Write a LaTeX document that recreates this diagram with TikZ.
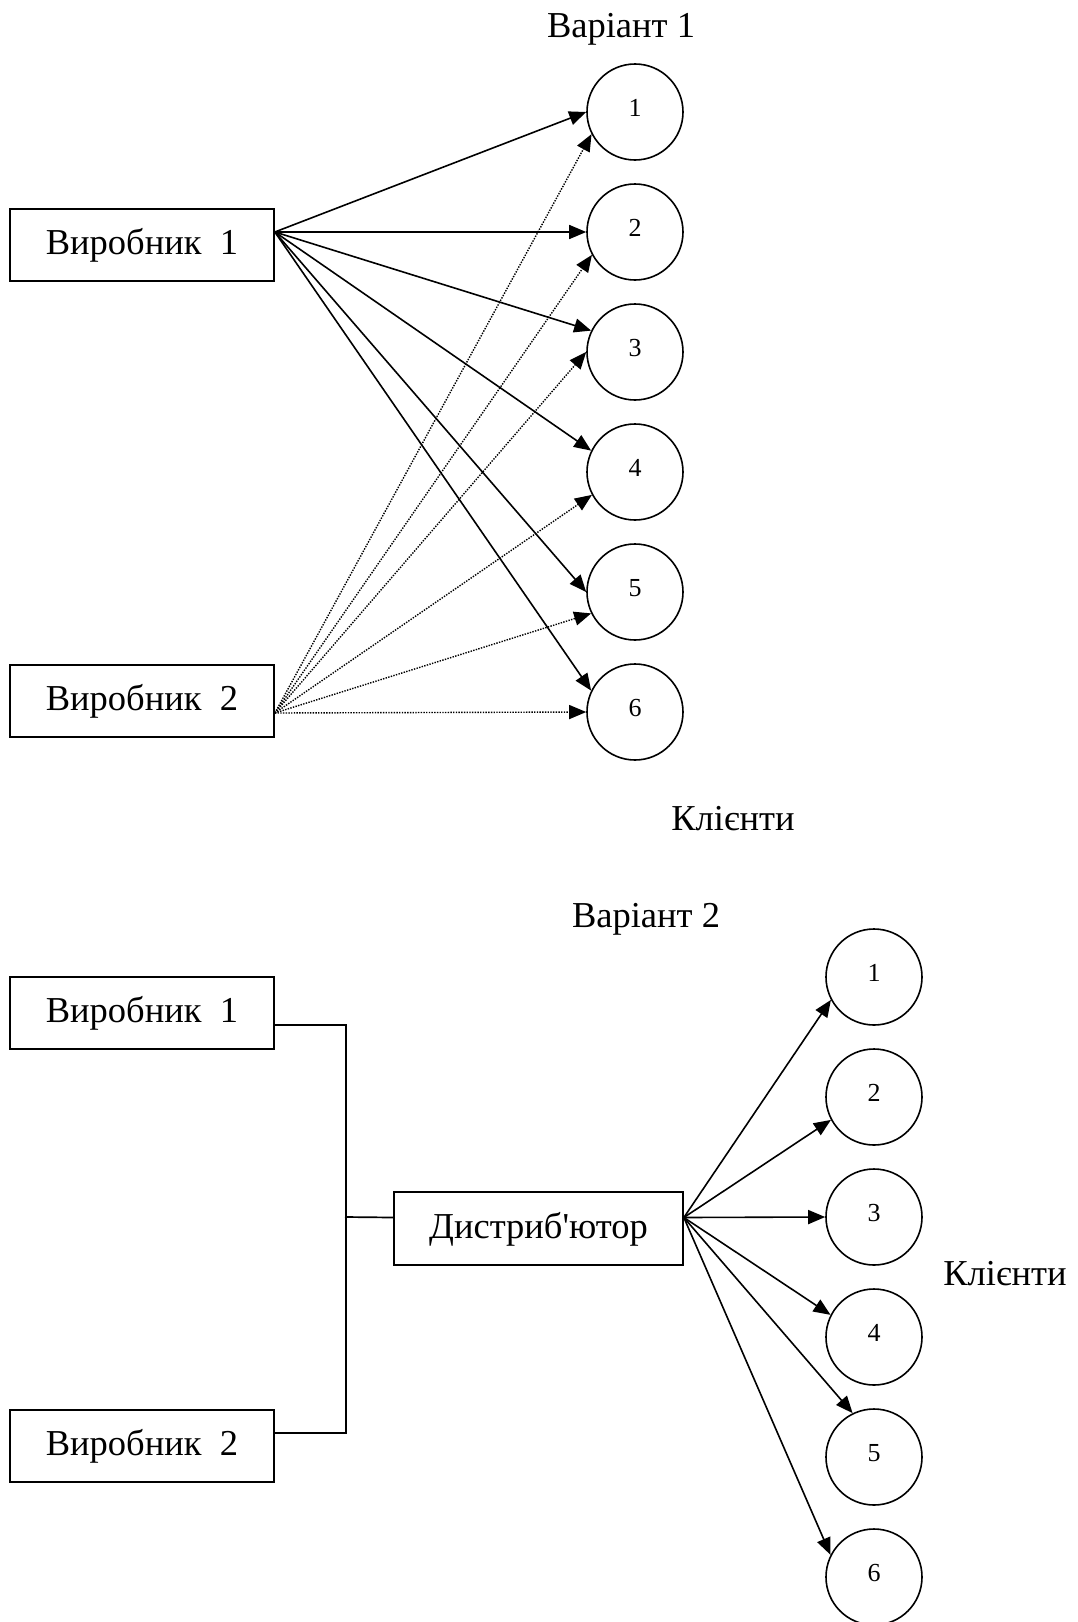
\documentclass[tikz,border=0pt]{standalone}
\usepackage{fontspec}
\setmainfont{Liberation Serif}
% same face without TeX ligatures, so ' stays a straight apostrophe
\newfontfamily\plainserif{Liberation Serif}
\usetikzlibrary{arrows.meta}

\begin{document}
\begin{tikzpicture}[x=1pt,y=-1pt,
  box/.style={draw,line width=1.7pt,minimum width=264pt,minimum height=72pt,inner sep=0pt,
    text height=24pt,text depth=5pt,font=\fontsize{36.5}{42}\selectfont},
  client/.style={draw,circle,line width=1.6pt,minimum size=96pt,inner sep=0pt,
    text height=17pt,text depth=8pt,font=\fontsize{26}{30}\selectfont},
  lbl/.style={anchor=base,inner sep=0pt,font=\fontsize{36.5}{42}\selectfont},
  tip/.style={-{Triangle[length=17pt,width=14pt]}},
  flow/.style={tip,line width=1.6pt},
  dotflow/.style={tip,line width=1.4pt,dash pattern=on 1.4pt off 1.3pt},
  link/.style={line width=1.7pt}]
\useasboundingbox (0,0) rectangle (1077,1622);

% ---------- Variant 1: direct supply ----------
\node[lbl] (t1) at (621,37) {Варіант 1};
\node[box] (a1) at (142,245) {Виробник\ \ 1};
\node[box] (a2) at (142,701) {Виробник\ \ 2};
\coordinate (as1) at ([yshift=13pt]a1.east);
\coordinate (as2) at ([yshift=-12pt]a2.east);

\foreach \i in {1,...,6}
  \node[client] (c\i) at (635,{112+120*(\i-1)}) {\i};

\node[lbl] (k1) at (733,830) {Клієнти};

% producer 1 (solid)
\draw[flow] (as1) -- (c1.180);
\draw[flow] (as1) -- (c2.180);
\draw[flow] (as1) -- (c3.154);
\draw[flow] (as1) -- (c4.154);
\draw[flow] (as1) -- (c5.180);
\draw[flow] (as1) -- (c6.154);

% producer 2 (dotted)
\draw[dotflow] (as2) -- (c1.207);
\draw[dotflow] (as2) -- (c2.208);
\draw[dotflow] (as2) -- (c3.180);
\draw[dotflow] (as2) -- (c4.208);
\draw[dotflow] (as2) -- (c5.206);
\draw[dotflow] (as2) -- (c6.180);

% ---------- Variant 2: through a distributor ----------
\node[lbl] (t2) at (646,927) {Варіант 2};
\node[box] (b1) at (142,1013) {Виробник\ \ 1};
\node[box] (b2) at (142,1446) {Виробник\ \ 2};
\node[box,minimum width=289pt,minimum height=73pt,font=\fontsize{36.5}{42}\plainserif] (dist) at (538.5,1228.5) {Дистриб'ютор};

\coordinate (bs1) at ([yshift=-12pt]b1.east);
\coordinate (bs2) at ([yshift=13pt]b2.east);
\coordinate (din) at ([yshift=11pt]dist.west);
\coordinate (dout) at ([yshift=11pt]dist.east);
\coordinate (bj) at (345,1217);

\draw[link] (bs1) -- ++(71,0) |- (bs2);
\draw[link] (bj) -- (din);

\foreach \i in {1,...,6}
  \node[client] (d\i) at (874,{977+120*(\i-1)}) {\i};

\node[lbl] (k2) at (1005,1285) {Клієнти};

\draw[flow] (dout) -- (d1.208);
\draw[flow] (dout) -- (d2.208);
\draw[flow] (dout) -- (d3.180);
\draw[flow] (dout) -- (d4.153);
\draw[flow] (dout) -- (d5.116);
\draw[flow] (dout) -- (d6.153);
\end{tikzpicture}
\end{document}
